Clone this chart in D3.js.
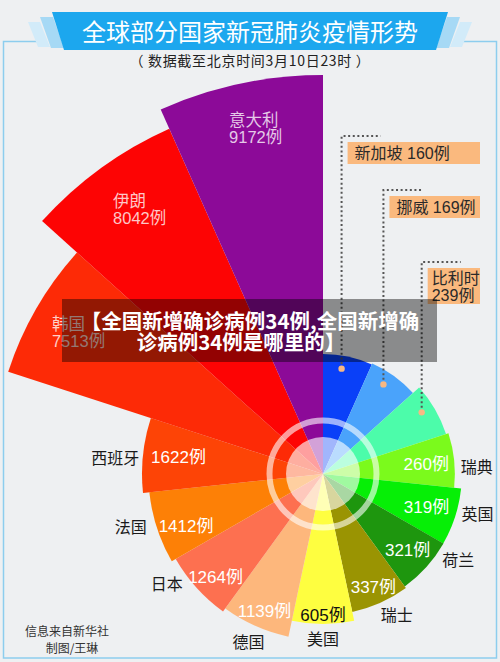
<!DOCTYPE html>
<html><head><meta charset="utf-8">
<script src="https://cdn.jsdelivr.net/npm/d3@7"></script>
<style>html,body{margin:0;padding:0;background:#eef0f2;}svg{display:block;}</style>
</head><body>
<script>
// ---- data (clockwise from 12 o'clock) ----
const countries = ["新加坡","挪威","比利时","瑞典","英国","荷兰","瑞士","美国","德国","日本","法国","西班牙","韩国","伊朗","意大利"];
const values    = [160,169,239,260,319,321,337,605,1139,1264,1412,1622,7513,8042,9172];
const palette   = ["#0a40f8","#4aa3fb","#4cfcaa","#7bfa1c","#06ef06","#1e960e","#9a9402","#fefe40","#fdb77c","#fd7050","#fd8006","#fd4406","#fd2a06","#fd0404","#8c0a98"];
const titleText = "全球部分国家新冠肺炎疫情形势";
const subtitleText = "（ 数据截至北京时间3月10日23时 ）";
const overlayLines = ["【全国新增确诊病例34例,全国新增确","诊病例34例是哪里的】"];
const footerLines = ["信息来自新华社","制图/王琳"];
const unit = "例";

// ---- layout ----
const W = 500, H = 662, cx = 323, cy = 474;
const LATIN = "'Liberation Sans','Noto Sans CJK SC',sans-serif";
const CJK = "'Noto Sans CJK SC','Liberation Sans',sans-serif";
// hand-placement nudges of the infographic: [degrees, px]
const valueNudge = {"西班牙":[0.7,-5.5],"法国":[-3,2],"日本":[-2,5.5],"德国":[-1,2],"荷兰":[0,-2],"英国":[0,-4.5],"瑞典":[1,-3]};
const nameNudge  = {"西班牙":[-1.3,0],"法国":[2.8,4],"日本":[7,0],"美国":[0,3],"瑞士":[-3.7,0],"荷兰":[-9.7,0],"英国":[-4,0],"瑞典":[3,2.6]};
const bigNudge   = {"伊朗":[10,3],"意大利":[5,-2]};
const calloutTop = [136, 190, 262];

const svg = d3.select("body").append("svg").attr("width", W).attr("height", H);
svg.append("rect").attr("width", W).attr("height", H).attr("fill", "#eef0f2");

// frame
svg.append("path").attr("d","M37,41.5 H3.5 V658 H496.5 V41.5 H458")
  .attr("fill","none").attr("stroke","#8dcdee").attr("stroke-width",1.5);

// title banner
const ban = svg.append("g");
ban.append("polygon").attr("points","28,22 40,22 50,47 38,47").attr("fill","#d2ebf9");
ban.append("polygon").attr("points","40,17 53,17 64,48 51,48").attr("fill","#a6d9f5");
ban.append("polygon").attr("points","472,22 460,22 450,47 462,47").attr("fill","#d2ebf9");
ban.append("polygon").attr("points","460,17 447,17 436,48 449,48").attr("fill","#a6d9f5");
ban.append("polygon").attr("points","52,12 448,12 436,50 64,50").attr("fill","#1ca7ee");
svg.append("text").attr("x",250).attr("y",41).attr("text-anchor","middle")
  .attr("font-family",CJK).attr("font-size",24).attr("fill","#fff").text(titleText);
svg.append("text").attr("x",250).attr("y",65.5).attr("text-anchor","middle")
  .attr("font-family",CJK).attr("font-size",14).attr("letter-spacing",0.7)
  .attr("fill","#222").text(subtitleText);

// scales
const angle = d3.scaleBand().domain(countries).range([0, 2*Math.PI]).padding(0);
const radius = d3.scaleLinear()
  .domain([160, 337, 605, 1622, 7513, 8042, 9172])
  .range([120, 141, 150, 181, 331, 378, 399]);
const color = d3.scaleOrdinal(countries, palette);

const data = countries.map((c,i)=>({country:c, value:values[i]}));
const arc = d3.arc().innerRadius(0)
  .outerRadius(d=>radius(d.value))
  .startAngle(d=>angle(d.country))
  .endAngle(d=>angle(d.country)+angle.bandwidth());

const chart = svg.append("g").attr("transform",`translate(${cx},${cy})`);
chart.selectAll("path.sector").data(data).join("path").attr("class","sector")
  .attr("d",arc).attr("fill",d=>color(d.country));

// center decoration
chart.append("circle").attr("r",37).attr("fill","#fff").attr("fill-opacity",0.62);
chart.append("circle").attr("r",53.5).attr("fill","none").attr("stroke","#fff")
  .attr("stroke-opacity",0.6).attr("stroke-width",6);

const DEG = Math.PI/180;
const polar = (a, r) => [r*Math.sin(a), -r*Math.cos(a)];
const mid = d => angle(d.country) + angle.bandwidth()/2;

// labels
const lab = chart.append("g");
data.forEach(d=>{
  const R = radius(d.value);
  if (d.value < 250) return; // callouts below
  if (d.value > 5000) {
    const nb = bigNudge[d.country] || [0,0];
    const [x,y] = polar(mid(d), R-48);
    const t = lab.append("text").attr("font-family",LATIN).attr("font-size",16.5)
      .attr("fill","#fff").attr("fill-opacity",0.78);
    t.append("tspan").attr("x",x-26+nb[0]).attr("y",y-3+nb[1]).text(d.country);
    t.append("tspan").attr("x",x-26+nb[0]).attr("y",y+14+nb[1]).text(d.value+unit);
    return;
  }
  // value inside
  const vn = valueNudge[d.country] || [0,0];
  const av = mid(d) + vn[0]*DEG;
  const v = lab.append("text").attr("font-family",LATIN).attr("font-size",17)
    .attr("text-anchor","middle").attr("dominant-baseline","central")
    .attr("fill", d.country==="美国" ? "#111" : "#fff")
    .text(d.value+unit);
  const w = v.node().getComputedTextLength();
  const ext = Math.abs(Math.sin(av))*w/2 + Math.abs(Math.cos(av))*6.5;
  const [vx,vy] = polar(av, R-2-ext+vn[1]);
  v.attr("x",vx).attr("y",vy);
  // name outside
  const nn = nameNudge[d.country] || [0,0];
  const an = mid(d) + nn[0]*DEG;
  const n = lab.append("text").attr("font-family",CJK).attr("font-size",16)
    .attr("text-anchor","middle").attr("dominant-baseline","central")
    .attr("fill","#1a1a1a").text(d.country);
  const wn = n.node().getComputedTextLength();
  const extn = Math.abs(Math.sin(an))*wn/2 + Math.abs(Math.cos(an))*8;
  const [nx,ny] = polar(an, R+3+extn+nn[1]);
  n.attr("x",nx).attr("y",ny);
});

// callouts for small values
data.filter(d=>d.value<250).forEach((d,k)=>{
  const [dx,dy] = polar(mid(d)-2*DEG, radius(d.value)-13);
  const px = cx+dx, py = cy+dy, top = calloutTop[k];
  svg.append("path").attr("d",`M${px},${py} V${top} H${px+39}`)
    .attr("fill","none").attr("stroke","#555").attr("stroke-width",2)
    .attr("stroke-dasharray","2,2.6");
  svg.append("circle").attr("cx",px).attr("cy",py).attr("r",3.2).attr("fill","#f7b884");
  const twoLine = k===2;
  const bx = px+6, by = top+6, bw = 480-bx, bh = twoLine ? 36 : 22;
  svg.append("rect").attr("x",bx).attr("y",by).attr("width",bw).attr("height",bh).attr("fill","#fab97e");
  const t = svg.append("text").attr("font-family",LATIN).attr("font-size",16).attr("fill","#2a2a2a");
  if (twoLine) {
    t.append("tspan").attr("x",bx+4).attr("y",by+16).text(d.country);
    t.append("tspan").attr("x",bx+4).attr("y",by+33).text(d.value+unit);
  } else {
    t.attr("x",bx+7).attr("y",by+17).text(d.country+" "+d.value+unit);
  }
});

// footer
const ft = svg.append("text").attr("font-family",CJK).attr("font-size",12).attr("fill","#333").attr("text-anchor","middle");
ft.append("tspan").attr("x",67).attr("y",635.5).text(footerLines[0]);
ft.append("tspan").attr("x",72).attr("y",653).text(footerLines[1]);

// overlay banner
svg.append("rect").attr("x",62).attr("y",299).attr("width",375).attr("height",63)
  .attr("fill","#000").attr("fill-opacity",0.42);
const ov = svg.append("text").attr("font-family",CJK).attr("font-weight","bold")
  .attr("font-size",20.5).attr("fill","#fff").attr("text-anchor","middle");
ov.append("tspan").attr("x",250).attr("y",329).text(overlayLines[0]);
ov.append("tspan").attr("x",241).attr("y",350).text(overlayLines[1]);
</script>
</body></html>
